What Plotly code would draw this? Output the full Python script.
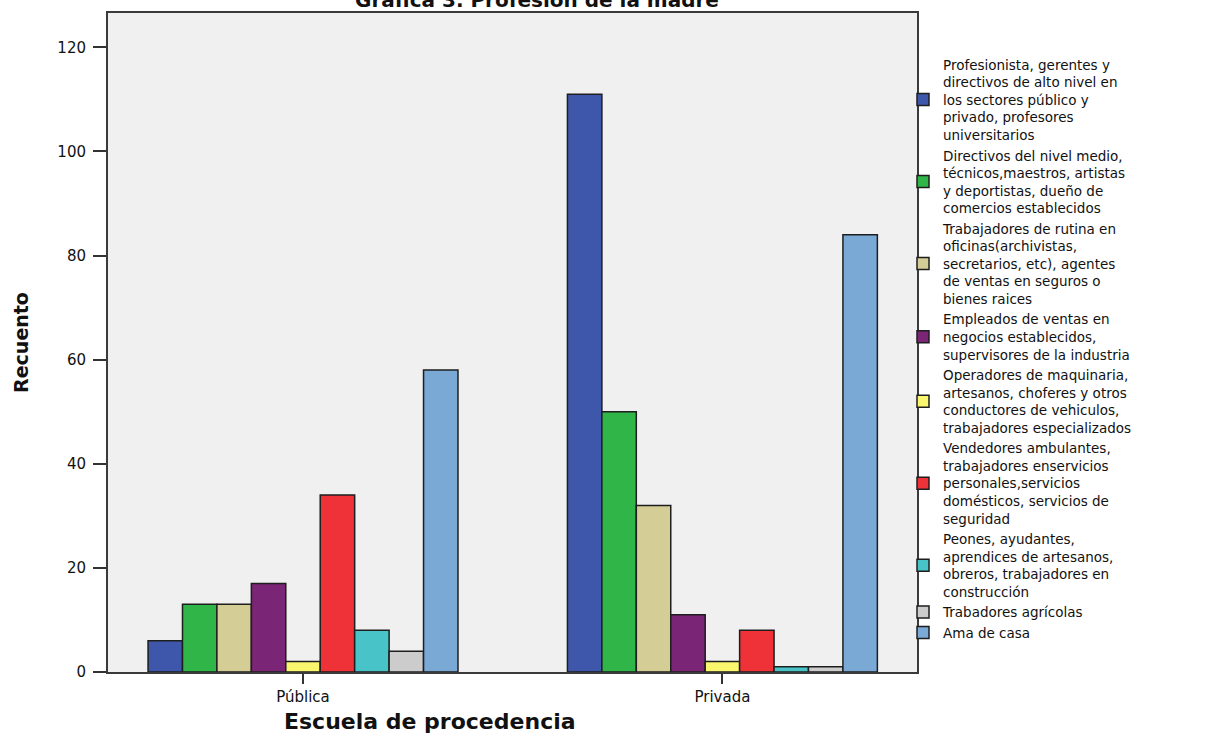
import plotly.graph_objects as go

# Categories on the x axis
schools = ["Pública", "Privada"]

# Occupation groups (legend labels, line-broken as displayed)
occupations = [
    "Profesionista, gerentes y<br>directivos de alto nivel en<br>los sectores público y<br>privado, profesores<br>universitarios",
    "Directivos del nivel medio,<br>técnicos,maestros, artistas<br>y deportistas, dueño de<br>comercios establecidos",
    "Trabajadores de rutina en<br>oficinas(archivistas,<br>secretarios, etc), agentes<br>de ventas en seguros o<br>bienes raices",
    "Empleados de ventas en<br>negocios establecidos,<br>supervisores de la industria",
    "Operadores de maquinaria,<br>artesanos, choferes y otros<br>conductores de vehiculos,<br>trabajadores especializados",
    "Vendedores ambulantes,<br>trabajadores enservicios<br>personales,servicios<br>domésticos, servicios de<br>seguridad",
    "Peones, ayudantes,<br>aprendices de artesanos,<br>obreros, trabajadores en<br>construcción",
    "Trabadores agrícolas",
    "Ama de casa",
]

# Counts per occupation: [Pública, Privada]
profesionista = [6, 111]
directivos_medio = [13, 50]
rutina_oficinas = [13, 32]
empleados_ventas = [17, 11]
operadores = [2, 2]
vendedores = [34, 8]
peones = [8, 1]
agricolas = [4, 1]
ama_de_casa = [58, 84]

series = [profesionista, directivos_medio, rutina_oficinas, empleados_ventas,
          operadores, vendedores, peones, agricolas, ama_de_casa]

colors = ["#3e57ab", "#2fb548", "#d4ce96", "#7a2575", "#faf76e",
          "#ee3238", "#48c4c8", "#cccccc", "#7aa9d6"]

fig = go.Figure()
for name, vals, col in zip(occupations, series, colors):
    fig.add_trace(go.Bar(
        x=schools, y=vals, name=name,
        marker=dict(color=col, line=dict(color="#1e1e1e", width=1.5)),
    ))

fig.update_layout(
    width=1216, height=744,
    margin=dict(l=108, r=299, t=11, b=72),
    paper_bgcolor="white",
    plot_bgcolor="#f0f0f0",
    barmode="group",
    bargap=0.261,
    bargroupgap=0,
    font=dict(family="DejaVu Sans", color="#1a1a1a"),
    title=dict(
        text="<b>Gráfica 3. Profesión de la madre</b>",
        font=dict(family="DejaVu Sans", size=20, color="#111"),
        x=537 / 1216, xanchor="center", xref="container",
        y=1.0, yanchor="middle", yref="container",
    ),
    legend=dict(
        x=0.9827, xanchor="left", y=0.945, yanchor="top",
        font=dict(family="DejaVu Sans", size=13.5, color="#111"),
        bgcolor="rgba(0,0,0,0)", itemwidth=30,
        tracegroupgap=0,
    ),
    annotations=[dict(
        text="<b>Escuela de procedencia</b>",
        xref="paper", yref="paper", x=(430 - 108) / 809, y=-0.075,
        xanchor="center", yanchor="middle", showarrow=False,
        font=dict(family="DejaVu Sans", size=22, color="#111"),
    )],
)

fig.update_xaxes(
    range=[-0.465, 1.464],
    showline=True, linecolor="#3a3a3a", linewidth=2, mirror=True,
    ticks="outside", ticklen=10, tickwidth=1.5, tickcolor="#333",
    tickfont=dict(family="DejaVu Sans", size=15, color="#111"),
    showgrid=False,
)
fig.update_yaxes(
    range=[0, 126.6],
    tickvals=[0, 20, 40, 60, 80, 100, 120],
    showline=True, linecolor="#3a3a3a", linewidth=2, mirror=True,
    ticks="outside", ticklen=13, tickwidth=1.5, tickcolor="#333",
    tickfont=dict(family="DejaVu Sans", size=15, color="#111"),
    ticklabelstandoff=4,
    showgrid=False, zeroline=False,
    title=dict(text="<b>Recuento</b>", standoff=24,
               font=dict(family="DejaVu Sans", size=19, color="#111")),
)

fig.write_html("out.html")
